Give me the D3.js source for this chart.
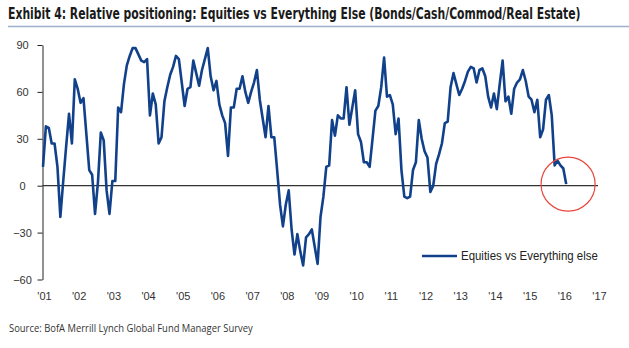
<!DOCTYPE html>
<html><head><meta charset="utf-8">
<script src="https://cdn.jsdelivr.net/npm/d3@7"></script>
<style>
html,body{margin:0;padding:0;background:#fff;}
svg{display:block;}
</style></head>
<body>
<script>
// ---- data ----
const title = "Exhibit 4: Relative positioning: Equities vs Everything Else (Bonds/Cash/Commod/Real Estate)";
const source = "Source: BofA Merrill Lynch Global Fund Manager Survey";
const seriesName = "Equities vs Everything else";
const startYear = 2001; // monthly series, Jan 2001 - Feb 2016
const values = [
  12, 38, 37, 27, 27, 12, -20, 3, 25, 46, 27, 68,
  62, 53, 56, 33, 10, 7, -18, 2, 34, 29, -3, -18,
  3, 3, 50, 47, 65, 77, 83, 88, 88, 84, 80, 79,
  81, 45, 59, 52, 27, 31, 54, 63, 71, 76, 83, 81,
  66, 51, 62, 63, 80, 72, 64, 74, 81, 88, 70, 61,
  67, 52, 45, 40, 19, 50, 50, 62, 62, 70, 60, 53,
  60, 66, 74, 55, 43, 31, 51, 31, 31, 10, -12, -26,
  -12, -3, -28, -44, -31, -42, -51, -33, -31, -28, -39, -50,
  -20, -7, 12, 13, 42, 32, 45, 43, 43, 63, 39, 50,
  61, 33, 28, 15, 15, 12, 30, 48, 51, 63, 82, 57,
  58, 52, 33, 43, 10, -7, -8, -7, 10, 15, 42, 30,
  22, 18, -4, 0, 14, 20, 27, 40, 41, 63, 72, 65,
  58, 62, 67, 73, 76, 75, 66, 74, 75, 70, 57, 50,
  59, 49, 65, 80, 54, 57, 46, 62, 66, 68, 74, 67,
  57, 55, 47, 55, 31, 36, 55, 58, 45, 13, 16, 13,
  11, 1
];
const xTickYears = [2001,2002,2003,2004,2005,2006,2007,2008,2009,2010,2011,2012,2013,2014,2015,2016,2017];
const xTickLabels = ["'01","'02","'03","'04","'05","'06","'07","'08","'09","'10","'11","'12","'13","'14","'15","'16","'17"];
const yTicks = [-60, -30, 0, 30, 60, 90];
const highlightYear = 2016.08; // red circle centre
const highlightValue = 1;

// ---- drawing ----
const W = 629, H = 348;
const svg = d3.select("body").append("svg").attr("width", W).attr("height", H);

const x = d3.scaleLinear().domain([2001, 2017]).range([43, 598]);
const y = d3.scaleLinear().domain([-60, 90]).range([279.5, 45]);

const data = values.map((v, i) => ({t: startYear + i / 12, v}));

// helper: text squeezed horizontally to a target width
function fitText(g, x0, y0, width, txt, attrs) {
  const t = g.append("text").attr("x", 0).attr("y", 0).text(txt);
  Object.entries(attrs).forEach(([k, v]) => t.attr(k, v));
  const w = t.node().getComputedTextLength();
  const s = width / w;
  t.attr("transform", `translate(${x0},${y0}) scale(${s},1)`);
  return t;
}

// title
fitText(svg, 8, 19, 573, title, {
  "font-family": "'Liberation Sans Narrow','DejaVu Sans Condensed',Arial,sans-serif",
  "font-weight": "bold", "font-size": 15, "fill": "#1a1a1a"
});
svg.append("line").attr("x1", 8).attr("x2", 629).attr("y1", 26.5).attr("y2", 26.5)
  .attr("stroke", "#9db1cb").attr("stroke-width", 1.5);

// y axis
const yAxis = svg.append("g").attr("transform", `translate(42.5,0)`)
  .call(d3.axisLeft(y).tickValues(yTicks).tickSize(5).tickSizeOuter(0));
yAxis.select(".domain").attr("stroke", "#222").attr("stroke-width", 1);
yAxis.selectAll(".tick line").attr("stroke", "#222");
yAxis.selectAll(".tick text").attr("x", -20).attr("text-anchor", "middle")
  .attr("font-family", "'Liberation Sans',Arial,sans-serif").attr("font-size", 11).attr("fill", "#333");

// x axis (labels only)
const xAxis = svg.append("g").attr("transform", `translate(0,280)`)
  .call(d3.axisBottom(x).tickValues(xTickYears).tickFormat((d, i) => xTickLabels[i]).tickSize(0).tickPadding(12));
xAxis.select(".domain").remove();
xAxis.selectAll(".tick text").attr("dx", 1)
  .attr("font-family", "'Liberation Sans',Arial,sans-serif").attr("font-size", 11).attr("fill", "#333");

// zero line
svg.append("line").attr("x1", 42.5).attr("x2", x(2017)).attr("y1", y(0)).attr("y2", y(0))
  .attr("stroke", "#333").attr("stroke-width", 1.2);

// series
const line = d3.line().x(d => x(d.t)).y(d => y(d.v));
svg.append("path").datum(data).attr("d", line)
  .attr("fill", "none").attr("stroke", "#11418a").attr("stroke-width", 2.6)
  .attr("stroke-linejoin", "round");

// red circle highlight
svg.append("circle").attr("cx", x(highlightYear) + 2).attr("cy", y(highlightValue))
  .attr("r", 27).attr("fill", "none").attr("stroke", "#e8473f").attr("stroke-width", 1.2);

// legend
svg.append("line").attr("x1", 422).attr("x2", 457).attr("y1", 256).attr("y2", 256)
  .attr("stroke", "#11418a").attr("stroke-width", 2.6);
fitText(svg, 461, 260, 137, seriesName, {
  "font-family": "'Liberation Sans Narrow','Liberation Sans',Arial,sans-serif",
  "font-size": 12, "fill": "#222"
});

// source
fitText(svg, 9, 332, 244, source, {
  "font-family": "'Open Sans','Liberation Sans',Arial,sans-serif",
  "font-size": 10, "fill": "#333"
});
</script>
</body></html>
